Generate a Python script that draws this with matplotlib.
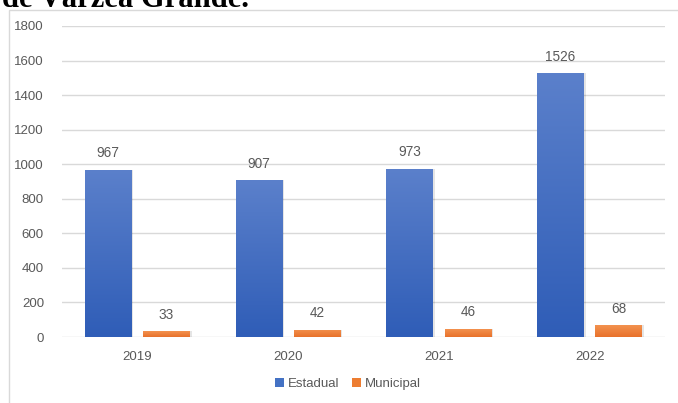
import matplotlib
matplotlib.use("Agg")
import matplotlib.pyplot as plt
import numpy as np
from matplotlib.patches import Rectangle
from matplotlib.colors import LinearSegmentedColormap

years = ["2019", "2020", "2021", "2022"]
estadual = [967, 907, 973, 1526]
municipal = [33, 42, 46, 68]
series_names = ["Estadual", "Municipal"]
yticks = [0, 200, 400, 600, 800, 1000, 1200, 1400, 1600, 1800]

W, H = 678, 403
fig = plt.figure(figsize=(W / 100, H / 100), dpi=100)
fig.patch.set_facecolor("white")

# chart frame
fig.patches.append(Rectangle((8.5 / W, -0.01), 1.0, 1 - 10.5 / H + 0.01,
                             transform=fig.transFigure, fill=False,
                             edgecolor="#d9d9d9", linewidth=1.0))

# cut-off caption text above the chart
fig.text(2 / W, 1 - 7 / H, "de Várzea Grande.", family="Liberation Serif",
         fontweight="bold", fontsize=22, color="black", va="baseline", ha="left")

ax = fig.add_axes([62 / W, 66 / H, (665 - 62) / W, (337 - 26) / H])
x = np.arange(len(years))
bw = 0.31
off = 0.193
b1 = ax.bar(x - off, estadual, bw, color="#4472c4", label=series_names[0], zorder=3)
b2 = ax.bar(x + off, municipal, bw, color="#ed7d31", label=series_names[1], zorder=3)

cm_blue = LinearSegmentedColormap.from_list("b", ["#2f5db7", "#5b80cb"])
cm_orng = LinearSegmentedColormap.from_list("o", ["#e8712b", "#f3924f"])
grad = np.linspace(0, 1, 256).reshape(-1, 1)
for bars, cm in ((b1, cm_blue), (b2, cm_orng)):
    for p in bars:
        x0, y0 = p.get_x(), p.get_y()
        w, h = p.get_width(), p.get_height()
        im = ax.imshow(grad, cmap=cm, origin="lower", aspect="auto",
                       extent=[x0, x0 + w, y0, y0 + h], zorder=3.5)
        im.set_clip_path(p)
        ax.add_patch(Rectangle((x0 + 0.012, y0), w, h, facecolor="#000000",
                               alpha=0.10, zorder=3.2, linewidth=0))

for bars, vals in ((b1, estadual), (b2, municipal)):
    for p, v in zip(bars, vals):
        ax.annotate(str(v), (p.get_x() + p.get_width() / 2, v), xytext=(0, 7),
                    textcoords="offset points", ha="center", va="bottom",
                    fontsize=9.8, color="#595959", family="Liberation Sans")

ax.set_xlim(-0.5, 3.5)
ax.set_ylim(0, 1800)
ax.set_yticks(yticks)
ax.set_yticklabels([str(t) for t in yticks])
ax.set_xticks(x)
ax.set_xticklabels(years)
ax.yaxis.grid(True, color="#d9d9d9", linewidth=1.0, zorder=0)
ax.set_axisbelow(True)
for s in ax.spines.values():
    s.set_visible(False)
ax.tick_params(axis="both", length=0, colors="#595959", labelsize=9.5)
ax.tick_params(axis="y", pad=13)
ax.tick_params(axis="x", pad=10)
for lab in ax.get_xticklabels() + ax.get_yticklabels():
    lab.set_family("Liberation Sans")

leg = fig.legend(handles=[b1, b2], labels=series_names, loc="center",
                 bbox_to_anchor=(348 / W, 1 - 384 / H), ncol=2, frameon=False,
                 handlelength=0.7, handleheight=0.7, handletextpad=0.3,
                 columnspacing=0.9, prop={"family": "Liberation Sans", "size": 9.5})
for t in leg.get_texts():
    t.set_color("#595959")

fig.savefig("out.png", dpi=100, facecolor="white")
